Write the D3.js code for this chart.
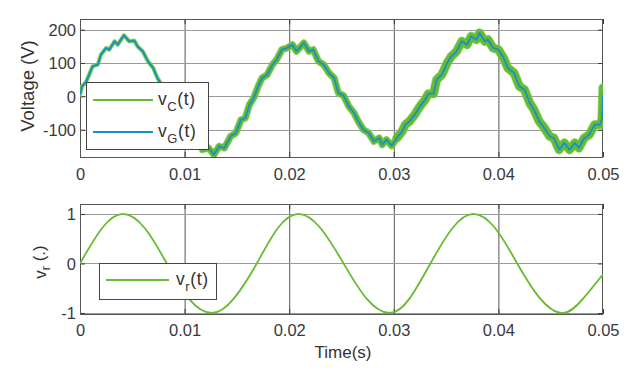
<!DOCTYPE html>
<html><head><meta charset="utf-8">
<script src="https://cdn.jsdelivr.net/npm/d3@7"></script>
<style>body{margin:0;background:#fff}svg{display:block}text{font-family:"Liberation Sans",Arial,sans-serif;fill:#333}</style>
</head><body><svg id="c" width="632" height="370"></svg>
<script>
// ---- data ----
const tTop = [0,0.0002,0.0006,0.0012,0.0017,0.0020,0.0025,0.0028,0.0033,0.0036,0.0042,0.0047,0.0052,0.0055,0.0060,0.0065,0.0070,0.0074,0.0078,0.0083,0.0088,0.0093,0.0098,0.0102,0.0107,0.0112,0.0117,0.0123,0.0128,0.0133,0.0138,0.0144,0.0149,0.0154,0.0158,0.0162,0.0166,0.0171,0.0174,0.0179,0.0184,0.0188,0.0193,0.0198,0.0203,0.0207,0.0214,0.0219,0.0223,0.0228,0.0233,0.0238,0.0243,0.0247,0.0252,0.0257,0.0262,0.0266,0.0271,0.0276,0.0281,0.0286,0.0289,0.0293,0.0298,0.0303,0.0308,0.0311,0.0315,0.0320,0.0325,0.0330,0.0333,0.0338,0.0341,0.0346,0.0351,0.0355,0.0360,0.0365,0.0370,0.0374,0.0379,0.0382,0.0387,0.0390,0.0395,0.0400,0.0405,0.0409,0.0415,0.0420,0.0425,0.0430,0.0434,0.0439,0.0444,0.0449,0.0453,0.0458,0.0463,0.0468,0.0473,0.0477,0.0482,0.0487,0.0492,0.0497,0.0499,0.0500];
const vG = [5,30,44,90,95,125,145,140,165,155,183,165,167,150,135,105,85,55,35,10,-20,-45,-75,-100,-125,-145,-160,-155,-175,-150,-155,-120,-110,-70,-65,-25,-5,35,55,65,95,110,140,145,155,135,160,135,140,105,95,70,55,10,2,-30,-50,-75,-100,-110,-135,-125,-145,-130,-148,-125,-105,-85,-75,-55,-30,-10,8,8,50,65,100,120,135,165,155,180,170,190,165,170,145,140,115,85,70,30,20,-20,-40,-75,-95,-120,-125,-160,-140,-160,-140,-155,-125,-115,-85,-85,-70,5];
const vC = [5,30,44,90,95,125,145,140,165,155,183,165,167,150,135,105,85,55,35,10,-20,-45,-75,-100,-125,-145,-160,-155,-175,-150,-155,-120,-110,-70,-65,-25,-5,35,55,65,95,110,140,145,155,135,160,135,140,105,95,70,55,10,2,-30,-50,-75,-100,-110,-135,-125,-145,-130,-148,-125,-105,-85,-75,-55,-30,-10,8,8,50,65,100,120,135,165,155,180,170,190,165,170,145,140,115,85,70,30,20,-20,-40,-75,-95,-120,-125,-160,-140,-160,-140,-155,-125,-115,-85,-85,-70,25];
const tBot = [0,0.0021,0.0041,0.0062,0.0083,0.0104,0.0126,0.0147,0.0169,0.0189,0.0209,0.0230,0.0252,0.0274,0.0296,0.0315,0.0335,0.0356,0.0376,0.0397,0.0418,0.0440,0.0462,0.0481,0.0500];
const vR = [0,0.71,1,0.71,0,-0.71,-1,-0.71,0,0.71,1,0.71,0,-0.71,-1,-0.71,0,0.71,1,0.71,0,-0.71,-1,-0.71,-0.22];
const xTicks = [0,0.01,0.02,0.03,0.04,0.05];
const yTicksTop = [-100,0,100,200];
const yTicksBot = [-1,0,1];
const legendTop = ["C","G"];
const legendBot = ["r"];

// ---- drawing ----
const svg = d3.select("#c");
const GREEN = "#66bb33", BLUE = "#1590cf", AX = "#3a3a3a", GRID = "#9a9a9a";

function panel(cfg){
  const x = d3.scaleLinear().domain([0,0.05]).range([80,603]);
  const y = d3.scaleLinear().domain(cfg.ydom).range([cfg.y1, cfg.y0]);
  const g = svg.append("g");
  const id = "clip"+cfg.name;
  svg.append("clipPath").attr("id",id).append("rect")
    .attr("x",80).attr("y",cfg.y0).attr("width",523).attr("height",cfg.y1-cfg.y0);
  g.append("g").selectAll("line").data(xTicks.slice(1,-1)).join("line")
    .attr("x1",d=>x(d)+0.5).attr("x2",d=>x(d)+0.5).attr("y1",cfg.y0).attr("y2",cfg.y1)
    .attr("stroke","#555").attr("stroke-width",1);
  g.append("g").selectAll("line").data(cfg.yticks).join("line")
    .attr("x1",80).attr("x2",603).attr("y1",d=>Math.round(y(d))+0.5).attr("y2",d=>Math.round(y(d))+0.5)
    .attr("stroke",GRID).attr("stroke-width",1);
  const ax = d3.axisBottom(x).tickValues(xTicks).tickSize(-5).tickPadding(0).tickFormat(d=>d===0?"0":d.toFixed(2));
  const gx = g.append("g").attr("transform",`translate(0,${cfg.y1})`).call(ax);
  gx.select(".domain").remove();
  gx.selectAll(".tick line").attr("stroke",AX);
  gx.selectAll("text").attr("y",cfg.xlab-cfg.y1).attr("dy",0).attr("font-size",16.5).style("fill","#3a3a3a");
  const gxt = g.append("g").attr("transform",`translate(0,${cfg.y0})`).call(d3.axisTop(x).tickValues(xTicks).tickSize(-5).tickFormat(""));
  gxt.select(".domain").remove(); gxt.selectAll(".tick line").attr("stroke",AX);
  const ay = d3.axisLeft(y).tickValues(cfg.yticks).tickSize(-5).tickFormat(d=>String(d));
  const gy = g.append("g").attr("transform","translate(80,0)").call(ay);
  gy.select(".domain").remove(); gy.selectAll(".tick line").attr("stroke",AX);
  gy.selectAll("text").attr("x",-4).attr("dy","0.35em").attr("font-size",16.5).style("fill","#3a3a3a");
  const gyr = g.append("g").attr("transform","translate(603,0)").call(d3.axisRight(y).tickValues(cfg.yticks).tickSize(-5).tickFormat(""));
  gyr.select(".domain").remove(); gyr.selectAll(".tick line").attr("stroke",AX);
  g.append("rect").attr("x",80.5).attr("y",cfg.y0+0.5).attr("width",522).attr("height",cfg.y1-cfg.y0)
    .attr("fill","none").attr("stroke","#555").attr("stroke-width",1);
  return {x,y,g,clip:`url(#${id})`};
}

// top panel
const P1 = panel({name:"a",ydom:[-182,232],y0:19,y1:157,yticks:yTicksTop,xlab:180});
const line1 = d3.line().x(d=>P1.x(d[0])).y(d=>P1.y(d[1]));
const cData = tTop.map((t,i)=>[t,vC[i]]);
const lay1 = P1.g.append("g").attr("clip-path",P1.clip);
[[0,0.0117,3],[0.0117,0.0303,6],[0.0303,0.06,8]].forEach(([a,b,w])=>{
  const seg = cData.filter(d=>d[0]>=a&&d[0]<=b);
  lay1.append("path").datum(seg).attr("d",line1).attr("fill","none").attr("stroke","#8fd060").attr("stroke-opacity",0.7)
    .attr("stroke-width",w+1.5).attr("stroke-linejoin","round").attr("stroke-linecap","round");
  lay1.append("path").datum(seg).attr("d",line1).attr("fill","none").attr("stroke",GREEN)
    .attr("stroke-width",w).attr("stroke-linejoin","round").attr("stroke-linecap","round");
});
lay1.append("path").datum(tTop.map((t,i)=>[t,vG[i]])).attr("d",line1)
  .attr("fill","none").attr("stroke",BLUE).attr("stroke-width",1.8).attr("stroke-linejoin","round");

// bottom panel
const P2 = panel({name:"b",ydom:[-1.02,1.2],y0:204,y1:314,yticks:yTicksBot,xlab:336});
const line2 = d3.line().x(d=>P2.x(d[0])).y(d=>P2.y(d[1])).curve(d3.curveNatural);
P2.g.append("g").attr("clip-path",P2.clip).append("path").datum(tBot.map((t,i)=>[t,vR[i]]))
  .attr("d",line2).attr("fill","none").attr("stroke",GREEN).attr("stroke-width",1.8);

// axis labels
svg.append("text").attr("transform","translate(28,86) rotate(-90)").attr("text-anchor","middle")
  .attr("dy","0.35em").attr("font-size",18.5).text("Voltage (V)");
const vl = svg.append("text").attr("transform","translate(40,262) rotate(-90)").attr("text-anchor","middle")
  .attr("dy","0.35em").attr("font-size",17);
vl.append("tspan").text("v");
vl.append("tspan").attr("font-size",12.5).attr("dy","0.35em").text("r");
vl.append("tspan").attr("dy","-0.3em").text(" (.)");
svg.append("text").attr("x",343).attr("y",358).attr("text-anchor","middle").attr("font-size",17).text("Time(s)");

// legends
function legend(x0,y0,w,h,items,colors,rowY,lx0,lx1,tx){
  const lg = svg.append("g");
  lg.append("rect").attr("x",x0+0.5).attr("y",y0+0.5).attr("width",w).attr("height",h)
    .attr("fill","#fff").attr("stroke","#444").attr("stroke-width",1);
  items.forEach((s,i)=>{
    const yy = rowY[i];
    lg.append("line").attr("x1",lx0).attr("x2",lx1).attr("y1",yy).attr("y2",yy)
      .attr("stroke",colors[i]).attr("stroke-width",2);
    const t = lg.append("text").attr("x",tx).attr("y",yy+5).attr("font-size",17.5).attr("letter-spacing",0.6);
    t.append("tspan").text("v");
    t.append("tspan").attr("font-size",13).attr("dy",6).text(s);
    t.append("tspan").attr("dy",-6).text("(t)");
  });
}
legend(86,82,122,67,legendTop,[GREEN,BLUE],[100,132],93,153,158);
legend(99,263,117,36,legendBot,[GREEN],[280],106,169,176);
</script></body></html>
